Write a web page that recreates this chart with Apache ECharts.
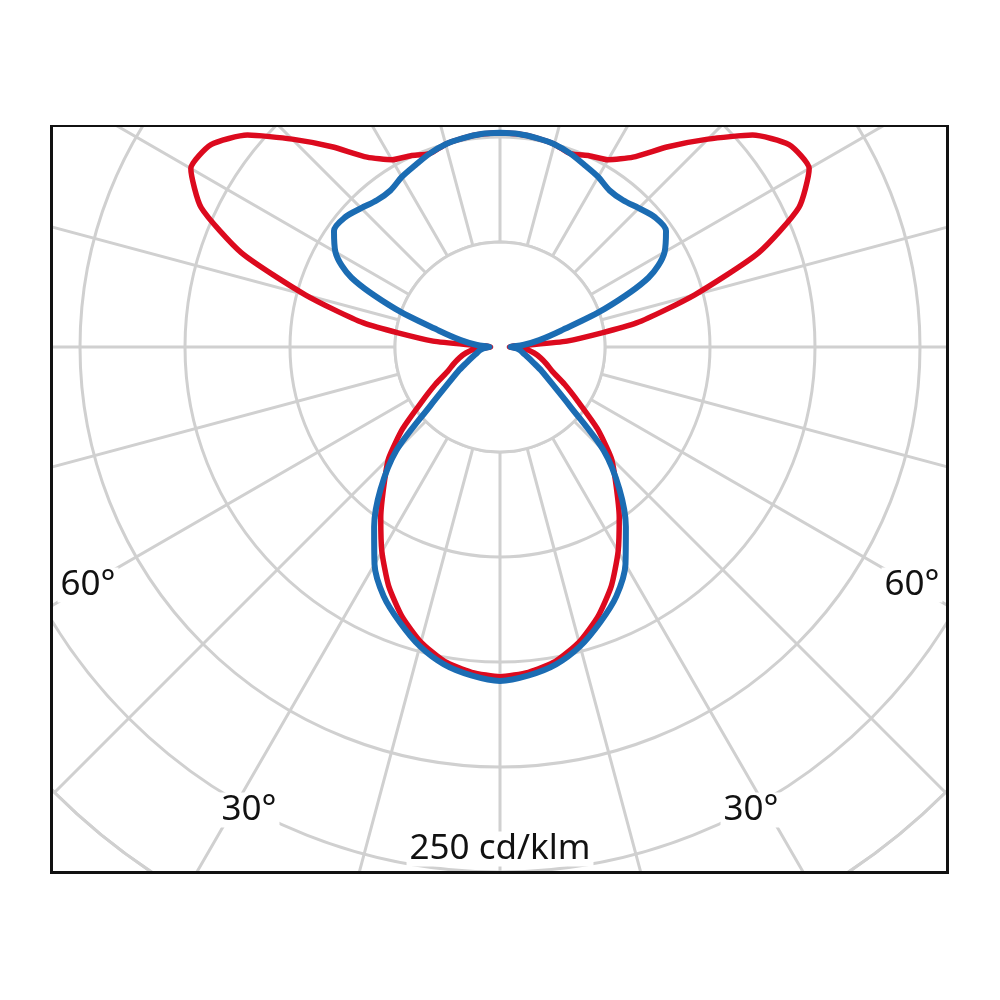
<!DOCTYPE html>
<html>
<head>
<meta charset="utf-8">
<script src="https://cdn.jsdelivr.net/npm/echarts@6/dist/echarts.min.js"></script>
<style>
html,body{margin:0;padding:0;background:#fff;}
#frame{position:absolute;left:50px;top:125px;width:899px;height:749px;box-sizing:border-box;border:3px solid #111;border-top-width:2px;overflow:hidden;background:#fff;}
#chart{width:100%;height:100%;}
</style>
</head>
<body>
<div id="frame"><div id="chart"></div></div>
<script>
// gamma angles (deg from nadir), symmetric planes
const gammaDeg = [0,5,10,15,20,25,30,35,40,45,50,55,60,65,70,75,80,85,90,95,100,105,110,115,120,125,130,135,140,145,150,155,160,165,170,175,180];
// red plane (cd/klm)
const redPlane = [157,155.5,152,145.5,136.5,125.5,112.5,99,86,75,60.5,45.5,35.5,27.5,23.5,20,16.5,12,4.5,
  32,66,96,131,157,170,168,157,140,124.5,110.4,103,100.5,98,100,101,101.8,102];
// blue plane (cd/klm)
const bluePlane = [159,157,153.5,147.5,139.5,131,119.5,104.5,88.5,70,43,30,23,17.5,14,11.5,10,8,5,
  11,19,30,53,78,90.5,96.5,96.2,93.5,91.2,91,93.5,95.5,98,100,101,101.8,102];
// radial scale
const ringStep = 50;
const ringMax = 300;
const innerRing = 50;
// angle label texts
const angleLabels = ['60°','60°','30°','30°'];
const unitLabel = '250 cd/klm';

function plane(vals){
  const d = [];
  for (let i = gammaDeg.length - 1; i > 0; i--) d.push([vals[i], -gammaDeg[i]]);
  for (let i = 0; i < gammaDeg.length; i++) d.push([vals[i], gammaDeg[i]]);
  return d;
}
const diskData = [];
for (let a = -180; a <= 180; a += 5) diskData.push([innerRing, a]);

const gridColor = '#d0d0d0';
const gridWidth = 3;
const chart = echarts.init(document.getElementById('chart'), null, {renderer:'canvas'});
const labelFont = '35px "Noto Sans"';
function lbl(text, x, y){
  return {type:'text', x:x, y:y, z:100,
    style:{text:text, font:labelFont, fill:'#111', align:'center', verticalAlign:'middle',
      textAlign:'center', textVerticalAlign:'middle', backgroundColor:'#fff', padding:[0,3]}};
}
chart.setOption({
  animation:false,
  polar:{center:[447,220], radius:630},
  angleAxis:{type:'value', min:-180, max:180, interval:15, startAngle:90, clockwise:false,
    axisLine:{show:true, lineStyle:{color:gridColor, width:gridWidth}},
    axisTick:{show:false}, axisLabel:{show:false},
    splitLine:{show:true, lineStyle:{color:gridColor, width:gridWidth}}},
  radiusAxis:{type:'value', min:0, max:ringMax, interval:ringStep,
    axisLine:{show:false}, axisTick:{show:false}, axisLabel:{show:false},
    splitLine:{show:true, lineStyle:{color:gridColor, width:gridWidth}}},
  series:[
    {type:'line', coordinateSystem:'polar', data:diskData, symbol:'none', silent:true, z:1, smooth:0.3,
      lineStyle:{color:gridColor, width:gridWidth}, areaStyle:{color:'#fff', opacity:1}},
    {type:'line', coordinateSystem:'polar', data:plane(redPlane), symbol:'none', z:3, smooth:0.2,
      lineStyle:{color:'#dc0a1e', width:5.5, join:'round', cap:'round'}},
    {type:'line', coordinateSystem:'polar', data:plane(bluePlane), symbol:'none', z:4, smooth:0.3,
      lineStyle:{color:'#1b6cb3', width:6, join:'round', cap:'round'}}
  ],
  graphic:[
    lbl(angleLabels[0], 35, 458),
    lbl(angleLabels[1], 859, 458),
    lbl(angleLabels[2], 196, 683),
    lbl(angleLabels[3], 698, 683),
    lbl(unitLabel, 447, 722)
  ]
});
</script>
</body>
</html>
